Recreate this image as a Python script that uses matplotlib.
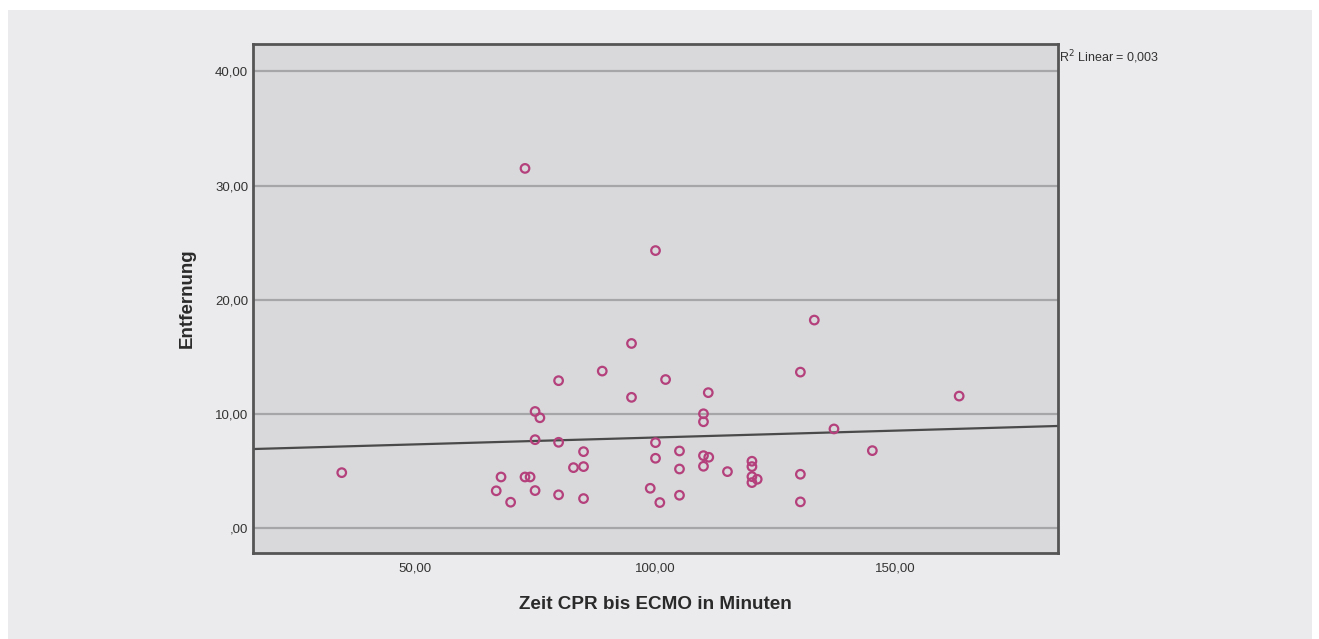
import numpy as np
import matplotlib.pyplot as plt
from matplotlib.patches import Rectangle

plt.rcParams['font.family'] = ['Liberation Sans', 'DejaVu Sans']

# data (minutes CPR -> ECMO vs distance)
zeit = [34.7, 66.9, 67.9, 69.9, 72.9, 73.96, 72.9, 75.0, 76.0, 75.0,
        75.0, 79.9, 79.9, 79.9, 83.0, 85.1, 85.1, 85.1, 89.0, 95.1,
        95.1, 99.0, 100.1, 100.1, 100.1, 101.0, 102.2, 105.1, 105.1, 105.1,
        110.1, 110.1, 110.1, 111.2, 110.1, 111.1, 115.1, 120.2, 120.2, 120.2,
        121.3, 120.2, 130.3, 130.3, 130.3, 133.2, 137.3, 145.3, 163.4]
entfernung = [4.84, 3.25, 4.46, 2.25, 4.46, 4.46, 31.5, 10.2, 9.65, 7.73,
              3.27, 12.9, 7.5, 2.9, 5.28, 5.37, 6.68, 2.57, 13.74, 16.16,
              11.44, 3.47, 24.3, 7.47, 6.10, 2.22, 13.0, 6.74, 5.16, 2.86,
              10.0, 9.3, 6.33, 6.19, 5.40, 11.85, 4.93, 5.84, 5.37, 4.49,
              4.26, 3.97, 13.65, 4.70, 2.28, 18.21, 8.67, 6.77, 11.55]

# fit line as drawn in the reference (ends at the axis limits)
fit_x = [16.2, 184.0]
fit_y = [6.91, 8.93]

x_ticks = [50, 100, 150]
x_ticklabels = ["50,00", "100,00", "150,00"]
y_ticks = [0, 10, 20, 30, 40]
y_ticklabels = [",00", "10,00", "20,00", "30,00", "40,00"]

W, H = 1319, 639
fig = plt.figure(figsize=(W / 100, H / 100), dpi=100, facecolor="white")

# outer light grey panel
fig.patches.append(Rectangle((8 / W, 0), (1312 - 8) / W, (H - 10) / H,
                             transform=fig.transFigure, facecolor="#ebebed",
                             edgecolor="none", zorder=-5))

ax = fig.add_axes([253 / W, 1 - 553 / H, (1058 - 253) / W, (553 - 44) / H])
ax.set_zorder(2)
ax.set_facecolor("#d9d9db")
ax.set_xlim(16.2, 184.0)
ax.set_ylim(-2.2, 42.4)

for yv in y_ticks:
    ax.axhline(yv, color="#a6a6a8", lw=1.6, zorder=1)

ax.plot(fit_x, fit_y, color="#4a4a4a", lw=1.6, zorder=2)
ax.scatter(zeit, entfernung, s=38, facecolors="none", edgecolors="#b4407c",
           linewidths=1.6, zorder=3)

ax.set_xticks(x_ticks)
ax.set_xticklabels(x_ticklabels)
ax.set_yticks(y_ticks)
ax.set_yticklabels(y_ticklabels)
ax.tick_params(length=0, labelsize=9.5, colors="#333333")
ax.tick_params(axis="x", pad=7)
ax.tick_params(axis="y", pad=3.5)

for s in ax.spines.values():
    s.set_color("#555555")
    s.set_linewidth(2)

ax.set_xlabel("Zeit CPR bis ECMO in Minuten", fontsize=13.6, fontweight="bold",
              color="#2a2a2a", va="center")
ax.xaxis.set_label_coords(0.5, -0.102)
ax.set_ylabel("Entfernung", fontsize=13.5, fontweight="bold", color="#2a2a2a",
              va="center")
ax.yaxis.set_label_coords(-0.082, 0.5)

fig.text(1059 / W, 1 - 57 / H, "R$^2$ Linear = 0,003", fontsize=9,
         color="#333333", ha="left", va="center")

fig.savefig("out.png", dpi=100, facecolor="white")
